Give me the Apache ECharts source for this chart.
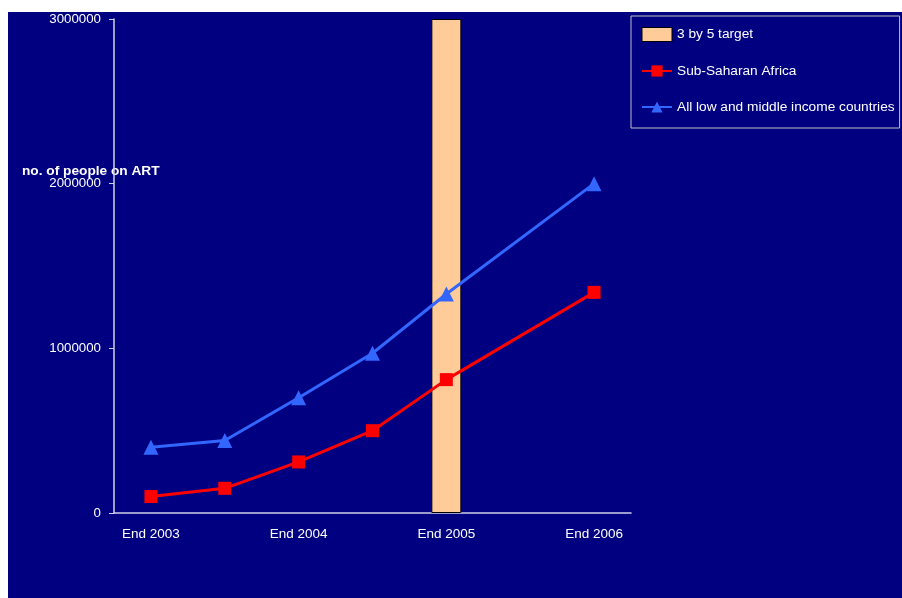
<!DOCTYPE html>
<html>
<head>
<meta charset="utf-8">
<script src="https://cdn.jsdelivr.net/npm/echarts@6/dist/echarts.min.js"></script>
<style>
html,body{margin:0;padding:0;background:#fff;}
#wrap{position:absolute;left:8px;top:12px;width:894px;height:586px;background:#000080;}
#chart{width:894px;height:586px;}
</style>
</head>
<body>
<div id="wrap"><div id="chart"></div></div>
<script>
const categories = ['End 2003', 'Mid 2004', 'End 2004', 'Mid 2005', 'End 2005', 'Mid 2006', 'End 2006'];
const shownLabels = ['End 2003', 'End 2004', 'End 2005', 'End 2006'];
const targetValues = [null, null, null, null, 3000000, null, null];
const subSaharan = [100000, 150000, 310000, 500000, 810000, null, 1340000];
const lowMiddle = [400000, 440000, 700000, 970000, 1330000, null, 2000000];
const yTicks = [0, 1000000, 2000000, 3000000];

const chart = echarts.init(document.getElementById('chart'), null, {renderer: 'canvas'});
const font = 'Liberation Sans, Arial, sans-serif';
chart.setOption({
  backgroundColor: '#000080',
  animation: false,
  textStyle: {fontFamily: font},
  grid: {left: 106, top: 7, right: 271, bottom: 85, containLabel: false},
  graphic: [{
    type: 'text', left: 14, top: 152,
    style: {text: 'no. of people on ART', fill: '#ffffff', font: 'bold 13.7px ' + font}
  }],
  legend: {
    orient: 'vertical',
    left: 623, top: 4,
    padding: [11, 5, 14, 10],
    itemGap: 22,
    itemWidth: 30, itemHeight: 14,
    borderColor: '#c0c0c0', borderWidth: 1,
    textStyle: {color: '#ffffff', fontSize: 13.7, fontFamily: font},
    data: [
      {name: '3 by 5 target', icon: 'rect', itemStyle: {color: '#FFCC99', borderColor: '#000', borderWidth: 1}},
      {name: 'Sub-Saharan Africa'},
      {name: 'All low and middle income countries'}
    ]
  },
  xAxis: {
    type: 'category',
    data: categories,
    boundaryGap: true,
    axisLine: {lineStyle: {color: '#d0d0e8', width: 1.5}},
    axisTick: {interval: 0, length: 5, lineStyle: {color: '#d0d0e8'}},
    axisLabel: {
      color: '#ffffff', fontSize: 13.5, margin: 14, interval: 0,
      formatter: v => shownLabels.includes(v) ? v : ''
    },
    splitLine: {show: false}
  },
  yAxis: {
    type: 'value',
    min: yTicks[0], max: yTicks[yTicks.length - 1], interval: 1000000,
    axisLine: {show: true, lineStyle: {color: '#d0d0e8', width: 1.5}},
    axisTick: {show: true, length: 5, lineStyle: {color: '#d0d0e8'}},
    axisLabel: {color: '#ffffff', fontSize: 13.3, margin: 13, formatter: v => String(v)},
    splitLine: {show: false}
  },
  series: [
    {
      name: '3 by 5 target', type: 'bar', data: targetValues, barWidth: 30,
      itemStyle: {color: '#FFCC99', borderColor: '#000000', borderWidth: 1}, z: 1
    },
    {
      name: 'Sub-Saharan Africa', type: 'line', data: subSaharan, connectNulls: true,
      symbol: 'rect', symbolSize: 13,
      lineStyle: {color: '#FF0000', width: 3},
      itemStyle: {color: '#FF0000'}, z: 3
    },
    {
      name: 'All low and middle income countries', type: 'line', data: lowMiddle, connectNulls: true,
      symbol: 'triangle', symbolSize: 15,
      lineStyle: {color: '#3366FF', width: 3},
      itemStyle: {color: '#3366FF'}, z: 3
    }
  ]
});
</script>
</body>
</html>
